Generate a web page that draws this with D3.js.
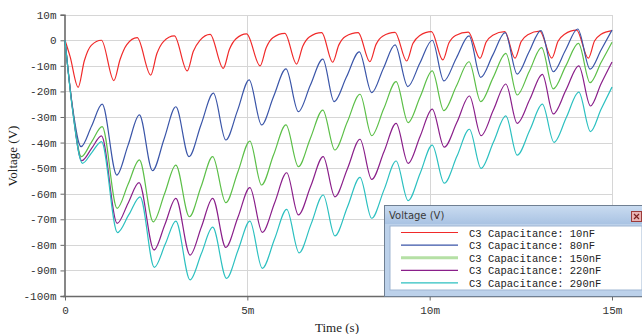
<!DOCTYPE html>
<html>
<head>
<meta charset="utf-8">
<script src="https://cdn.jsdelivr.net/npm/d3@7"></script>
<style>
  body { margin: 0; background: #fff; }
  svg { display: block; }
</style>
</head>
<body>
<div id="chart"></div>
<script>
// time in ms, voltage in mV
const red10nF = [[0,0],[0.14,-6.4],[0.36,-18.4],
  [0.53,-8],[0.72,-2],[1.00,0],[1.34,-15.8],
  [1.51,-7.5],[1.69,-1.8],[1.98,1.0],[2.35,-13.6],
  [2.52,-5.2],[2.70,-0.5],[3.00,1.7],[3.35,-12],
  [3.52,-4.3],[3.70,0],[3.98,2.3],[4.34,-11],
  [4.51,-3.5],[4.69,0.6],[4.98,2.5],[5.35,-10],
  [5.52,-2.8],[5.70,1.0],[6.03,2.7],[6.35,-9.3],
  [6.52,-2.3],[6.70,1.3],[7.04,3.0],[7.34,-8.6],
  [7.51,-1.8],[7.69,1.5],[8.04,3.0],[8.36,-8.4],
  [8.53,-1.6],[8.71,1.6],[9.05,3.1],[9.37,-8.1],
  [9.54,-1.3],[9.72,1.8],[10.05,3.4],[10.36,-7.7],
  [10.53,-1.0],[10.71,1.9],[11.06,3.2],[11.38,-7.1],
  [11.55,-0.7],[11.73,2.0],[12.06,3.4],[12.34,-7.0],
  [12.51,-0.5],[12.69,2.2],[13.02,3.6],[13.35,-7.0],
  [13.52,-0.4],[13.70,2.4],[14.03,4.0],[14.35,-7.0],
  [14.52,-0.3],[14.70,2.4],[15.0,3.8]];

const blue80nF = [[0,0],[0.2,-25.5],[0.44,-41.6],[0.73,-33.5],[1.02,-25],
  [1.42,-52.7],[1.73,-41],[2.04,-29.2],
  [2.40,-51],[2.72,-38.5],[3.04,-26],
  [3.40,-45.5],[3.73,-33],[4.07,-20.7],
  [4.41,-39],[4.73,-27.5],[5.05,-15.5],
  [5.39,-33.1],[5.72,-22],[6.06,-11.2],
  [6.40,-27.9],[6.73,-17.5],[7.07,-7.4],
  [7.38,-24],[7.72,-14.3],[8.07,-4.5],
  [8.41,-20.5],[8.73,-11],[9.05,-1.8],
  [9.40,-18.1],[9.73,-9],[10.07,0],
  [10.39,-15.9],[10.73,-7],[11.08,1.7],
  [11.40,-14.5],[11.73,-5.8],[12.07,3.0],
  [12.40,-13.2],[12.72,-4.7],[13.05,3.8],
  [13.39,-12.3],[13.72,-4],[14.06,4.4],
  [14.40,-11.3],[14.70,-3.8],[15.0,4.0]];

const green150nF = [[0,0],[0.2,-26],[0.45,-45.5],[0.73,-39.7],[1.02,-33.8],
  [1.43,-65.7],[1.73,-56.3],[2.04,-46.8],
  [2.42,-71],[2.73,-60],[3.04,-48.8],
  [3.41,-69],[3.73,-57.3],[4.05,-45.5],
  [4.41,-63.5],[4.74,-51.5],[5.07,-39.4],
  [5.39,-56.6],[5.72,-44.8],[6.06,-33.1],
  [6.40,-49.4],[6.73,-38.3],[7.07,-27.3],
  [7.40,-42.9],[7.74,-32],[8.09,-21.1],
  [8.41,-37.3],[8.74,-26.8],[9.08,-16.2],
  [9.41,-32.2],[9.74,-22.1],[10.07,-12],
  [10.39,-27.5],[10.73,-18],[11.08,-8.4],
  [11.40,-24],[11.74,-14.6],[12.09,-5.1],
  [12.40,-21.4],[12.73,-12.2],[13.07,-2.9],
  [13.39,-19],[13.73,-10.1],[14.08,-1.2],
  [14.40,-16.6],[14.70,-8.7],[15.0,-0.8]];

const purple220nF = [[0,0],[0.2,-26],[0.46,-47.1],[0.73,-42.3],[1.00,-37.4],
  [1.43,-71.6],[1.73,-63.7],[2.03,-55.7],
  [2.44,-82],[2.74,-72],[3.04,-61.8],
  [3.43,-84],[3.74,-73],[4.05,-61.8],
  [4.41,-81],[4.74,-69.3],[5.07,-57.6],
  [5.41,-75.1],[5.75,-63.5],[6.08,-51.8],
  [6.40,-68.3],[6.74,-57],[7.08,-45.5],
  [7.40,-61.2],[7.75,-50],[8.09,-38.7],
  [8.41,-54.4],[8.75,-43.5],[9.08,-32.5],
  [9.41,-48.1],[9.74,-37.5],[10.07,-26.9],
  [10.40,-41.8],[10.75,-32],[11.09,-21.8],
  [11.41,-37.3],[11.75,-27.2],[12.09,-17.1],
  [12.40,-32.5],[12.75,-23],[13.09,-13.3],
  [13.39,-28.8],[13.74,-19.4],[14.09,-10],
  [14.41,-25.7],[14.70,-17],[15.0,-8.5]];

const cyan290nF = [[0,0],[0.2,-26.5],[0.48,-48.1],[0.74,-43.8],[1.00,-39.6],
  [1.44,-75.2],[1.75,-68.2],[2.06,-61.2],
  [2.45,-88.8],[2.75,-79.7],[3.04,-70.7],
  [3.43,-93.7],[3.74,-83.4],[4.05,-73.1],
  [4.43,-93.1],[4.75,-81.9],[5.07,-70.7],
  [5.41,-89.2],[5.75,-77.6],[6.08,-66.1],
  [6.42,-83.1],[6.75,-71.8],[7.08,-60.5],
  [7.40,-76.5],[7.75,-65],[8.09,-53.6],
  [8.41,-69.6],[8.75,-58.4],[9.08,-47.2],
  [9.41,-62.7],[9.74,-52],[10.07,-41],
  [10.40,-55.9],[10.75,-45.3],[11.09,-34.8],
  [11.41,-50.1],[11.75,-39.8],[12.09,-29.6],
  [12.40,-44.9],[12.75,-35],[13.09,-25],
  [13.41,-39.9],[13.75,-30.1],[14.09,-20.3],
  [14.41,-35.7],[14.70,-27],[15.0,-18.3]];

const seriesNames = ["C3 Capacitance: 10nF", "C3 Capacitance: 80nF", "C3 Capacitance: 150nF",
  "C3 Capacitance: 220nF", "C3 Capacitance: 290nF"];
const seriesData = [red10nF, blue80nF, green150nF, purple220nF, cyan290nF];
const seriesColors = ["#f02a2a", "#3a55a8", "#5cbf48", "#8a1f8a", "#2cc0c0"];

const yTicks = [10, 0, -10, -20, -30, -40, -50, -60, -70, -80, -90, -100];
const xTicks = [0, 5, 10, 15];

class VoltagePlot {

  constructor(element, width, height) {
    this.element = element;
    this.width = width;
    this.height = height;
    this.x = d3.scaleLinear().domain([0, 15]).range([65, 612]);
    this.y = d3.scaleLinear().domain([-100, 10]).range([296, 14.7]);
    this.svg = '';
  }

  fmt(v) {
    if (v === 0) return "0";
    return v + "m";
  }

  render() {
    var _self = this;
    var x = _self.x, y = _self.y;
    _self.svg = d3.select(_self.element).append("svg")
      .attr("width", _self.width).attr("height", _self.height);

    //grid
    var grid = _self.svg.append("g").attr("shape-rendering", "crispEdges");
    grid.selectAll("line.h").data(yTicks.filter(d => d > -100)).enter().append("line")
      .attr("x1", x(0)).attr("x2", x(15))
      .attr("y1", d => Math.round(y(d)) + 0.5).attr("y2", d => Math.round(y(d)) + 0.5)
      .attr("stroke", "#d6d6d6");
    grid.selectAll("line.v").data(xTicks.filter(d => d > 0)).enter().append("line")
      .attr("x1", d => Math.round(x(d)) + 0.5).attr("x2", d => Math.round(x(d)) + 0.5)
      .attr("y1", y(10)).attr("y2", y(-100))
      .attr("stroke", "#d6d6d6");

    //axes
    var yAxis = d3.axisLeft(y).tickValues(yTicks).tickFormat(_self.fmt).tickSize(4).tickPadding(4);
    var xAxis = d3.axisBottom(x).tickValues(xTicks).tickFormat(_self.fmt).tickSize(4).tickPadding(6);
    var gy = _self.svg.append("g").attr("transform", "translate(" + (x(0) - 0.5) + ",0)").call(yAxis);
    var gx = _self.svg.append("g").attr("transform", "translate(0," + (y(-100) + 0.5) + ")").call(xAxis);
    [gy, gx].forEach(function (g) {
      g.select(".domain").attr("stroke", "#6a6a6a").attr("stroke-width", 1.6);
      g.selectAll(".tick line").attr("stroke", "#6a6a6a");
      g.selectAll(".tick text").attr("fill", "#333")
        .style("font", "11px 'Liberation Mono', monospace");
    });
    gx.select(".domain").attr("d", "M" + (x(0) - 2) + ",0H" + _self.width);

    //curves
    var line = d3.line().x(d => x(d[0])).y(d => y(d[1])).curve(d3.curveMonotoneX);
    _self.svg.append("g").selectAll("path").data(seriesData).enter().append("path")
      .attr("d", line)
      .attr("fill", "none")
      .attr("stroke", (d, i) => seriesColors[i])
      .attr("stroke-width", 1.2);

    //titles
    _self.svg.append("text").attr("x", 337).attr("y", 332).attr("text-anchor", "middle")
      .style("font", "13px 'Liberation Serif', serif").attr("fill", "#222").text("Time (s)");
    _self.svg.append("text").attr("transform", "translate(17,156) rotate(-90)")
      .attr("text-anchor", "middle")
      .style("font", "13px 'Liberation Serif', serif").attr("fill", "#222").text("Voltage (V)");

    this.legendFun();
  }

  legendFun() {
    var _self = this;
    var svg = _self.svg;
    var defs = svg.append("defs");
    var grad = defs.append("linearGradient").attr("id", "titlebar").attr("x1", 0).attr("y1", 0).attr("x2", 0).attr("y2", 1);
    grad.append("stop").attr("offset", "0%").attr("stop-color", "#c9dbf0");
    grad.append("stop").attr("offset", "100%").attr("stop-color", "#a9c3e3");

    var lg = svg.append("g").attr("transform", "translate(384,205)");
    lg.append("rect").attr("x", 0.5).attr("y", 0.5).attr("width", 262).attr("height", 91)
      .attr("fill", "#bcd1ea").attr("stroke", "#6f7f92");
    lg.append("rect").attr("x", 1).attr("y", 1).attr("width", 262).attr("height", 18)
      .attr("fill", "url(#titlebar)");
    lg.append("text").attr("x", 5).attr("y", 14)
      .style("font", "10px 'DejaVu Sans', sans-serif").attr("fill", "#3a3a3a").text("Voltage (V)");
    //close button
    lg.append("rect").attr("x", 247.5).attr("y", 6.5).attr("width", 10).attr("height", 10)
      .attr("fill", "#e9b3b3").attr("stroke", "#9c3b3b");
    lg.append("path").attr("d", "M250,9L255,14M255,9L250,14").attr("stroke", "#7a2020").attr("stroke-width", 1.2);
    //body
    lg.append("rect").attr("x", 6).attr("y", 21).attr("width", 252).attr("height", 64)
      .attr("fill", "#fff").attr("stroke", "#9fb6d2");

    var rows = lg.selectAll("g.row").data(seriesNames).enter().append("g")
      .attr("transform", (d, i) => "translate(0," + (27.5 + i * 12.6) + ")");
    rows.append("line").attr("x1", 17).attr("x2", 74).attr("y1", 0).attr("y2", 0)
      .attr("stroke", (d, i) => i === 2 ? "#b5e0a5" : seriesColors[i])
      .attr("stroke-width", (d, i) => i === 2 ? 3 : 1.2);
    rows.append("text").attr("x", 85).attr("y", 4)
      .style("font", "10.5px 'Liberation Mono', monospace").attr("fill", "#222")
      .text(d => d);
  }
}

var plot = new VoltagePlot(document.getElementById("chart"), 642, 334);
plot.render();
</script>
</body>
</html>
